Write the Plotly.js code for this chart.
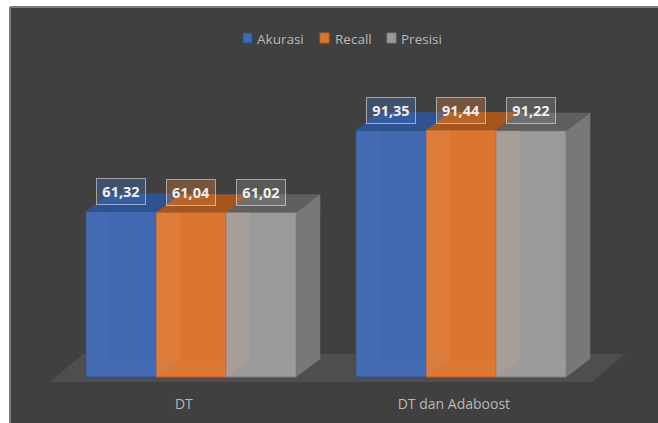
<!DOCTYPE html>
<html>
<head>
<meta charset="utf-8">
<script src="https://cdn.plot.ly/plotly-3.0.1.min.js"></script>
<style>html,body{margin:0;padding:0;background:#fff;overflow:hidden}</style>
</head>
<body>
<div id="chart" style="width:658px;height:423px"></div>
<script>
// Chart values
const categories = ['DT', 'DT dan Adaboost'];
const akurasi = [61.32, 91.35];
const recall = [61.04, 91.44];
const presisi = [61.02, 91.22];

// Series appearance
const seriesNames = ['Akurasi', 'Recall', 'Presisi'];
const seriesValues = [akurasi, recall, presisi];
const frontColors = ['#4169b2', '#dc7530', '#9a9a9a'];
const edgeColors = ['#2b4e8c', '#b95f22', '#7d7d7d'];
const topColors = ['#2f5290', '#a5561f', '#5f5f5f'];
const innerFaceTints = ['rgba(110,140,200,0.07)', 'rgba(235,190,160,0.10)', 'rgba(215,170,150,0.22)'];
const innerFloorTints = ['rgba(110,140,200,0.05)', 'rgba(235,190,160,0.04)', 'rgba(215,170,150,0.05)'];
const labelFills = ['rgba(68,114,196,0.35)', 'rgba(221,125,60,0.35)', 'rgba(150,150,150,0.30)'];
const sideColor = '#787878';

// Bar geometry in axis units
const barWidth = 0.26;
const barOffsets = [-0.389, -0.129, 0.13];
const depthX = 0.089;
const depthY = 6.67;
const groupPositions = [0, 1];
const tickPositions = [-0.026, 0.974];
const textColor = '#b8b8b8';
const labelFont = 'Open Sans, sans-serif';

// Plot area placement, used to convert page pixels to paper fractions
const W = 658, H = 423, mL = 10, mT = 7;
const paperX = px => (px - mL) / (W - mL);
const paperY = py => 1 - (py - mT) / (H - mT);

function face(xs, ys, color) {
  return {
    type: 'scatter', mode: 'lines', x: [...xs, xs[0]], y: [...ys, ys[0]],
    fill: 'toself', fillcolor: color, line: {width: 0},
    showlegend: false, hoverinfo: 'skip'
  };
}

const bars = [];
const faces = [];
const annotations = [];
const shapes = [];

seriesNames.forEach((name, s) => {
  const values = seriesValues[s];
  bars.push({
    type: 'bar', name, x: groupPositions, y: values, width: barWidth, offset: barOffsets[s],
    marker: {color: frontColors[s], line: {color: edgeColors[s], width: 1}},
    showlegend: false, hovertemplate: name + ': %{y}<extra></extra>'
  });
  groupPositions.forEach((g, i) => {
    const x0 = g + barOffsets[s], x1 = x0 + barWidth, v = values[i];
    // Inner left wall showing through the translucent front
    faces.push(face([x0, x0 + depthX, x0 + depthX, x0], [0, depthY, v + depthY, v], innerFaceTints[s]));
    // Inner floor showing through the front
    faces.push(face([x0, x1, x1 + depthX, x0 + depthX], [0, 0, depthY, depthY], innerFloorTints[s]));
    // Top of the box
    faces.push(face([x0, x1, x1 + depthX, x0 + depthX], [v, v, v + depthY, v + depthY], topColors[s]));
    // Outer right wall, only visible on the last bar of a group
    if (s === seriesNames.length - 1) {
      faces.push(face([x1, x1 + depthX, x1 + depthX, x1], [0, depthY, v + depthY, v], sideColor));
    }
    annotations.push({
      x: x0 + barWidth / 2, y: v, xref: 'x', yref: 'y', yshift: 20, showarrow: false,
      text: '<b>' + v.toFixed(2).replace('.', ',') + '</b>',
      font: {family: labelFont, size: 14.5, color: '#f0f0f0'},
      bgcolor: labelFills[s], bordercolor: 'rgba(255,255,255,0.5)', borderwidth: 1,
      borderpad: 0, width: 48, height: 25
    });
  });
});

// Legend built from swatches and captions so the spacing stays tight
const legendSwatchX = [243, 320, 387];
const legendTextX = [255, 333, 399];
seriesNames.forEach((name, s) => {
  shapes.push({
    type: 'rect', xref: 'paper', yref: 'paper', layer: 'above',
    x0: paperX(legendSwatchX[s]), x1: paperX(legendSwatchX[s] + 9),
    y0: paperY(33), y1: paperY(43),
    fillcolor: frontColors[s], line: {color: edgeColors[s], width: 1}
  });
  annotations.push({
    x: paperX(legendTextX[s]), y: paperY(38.5), xref: 'paper', yref: 'paper',
    xanchor: 'left', yanchor: 'middle', showarrow: false, text: name,
    font: {family: labelFont, size: 13.5, color: textColor}
  });
});

// Floor plate beneath the boxes
shapes.push({
  type: 'path', xref: 'x', yref: 'y', layer: 'below',
  path: 'M -0.522 -1.9 L 1.485 -1.9 L 1.607 8.5 L -0.4 8.5 Z',
  fillcolor: '#4f4d4d', line: {width: 0}
});
// Panel edge along the top and left
shapes.push({type: 'line', xref: 'paper', yref: 'paper', layer: 'above', x0: 0, x1: 0, y0: 0, y1: 1, line: {color: '#7c7c7c', width: 2}});
shapes.push({type: 'line', xref: 'paper', yref: 'paper', layer: 'above', x0: 0, x1: 1, y0: 1, y1: 1, line: {color: '#7c7c7c', width: 2}});

const layout = {
  width: W, height: H,
  margin: {l: mL, r: 0, t: mT, b: 0, pad: 0},
  paper_bgcolor: '#ffffff', plot_bgcolor: '#404040',
  barmode: 'overlay', showlegend: false,
  xaxis: {
    range: [-0.670, 1.730], anchor: 'free', position: paperY(394),
    tickmode: 'array', tickvals: tickPositions, ticktext: categories,
    ticklen: 0, showline: false, showgrid: false, zeroline: false,
    tickfont: {family: labelFont, size: 14, color: textColor}
  },
  yaxis: {range: [-17.04, 137.04], visible: false, showgrid: false, zeroline: false},
  annotations, shapes
};

Plotly.newPlot('chart', [...bars, ...faces], layout, {displayModeBar: false, staticPlot: true});
</script>
</body>
</html>
